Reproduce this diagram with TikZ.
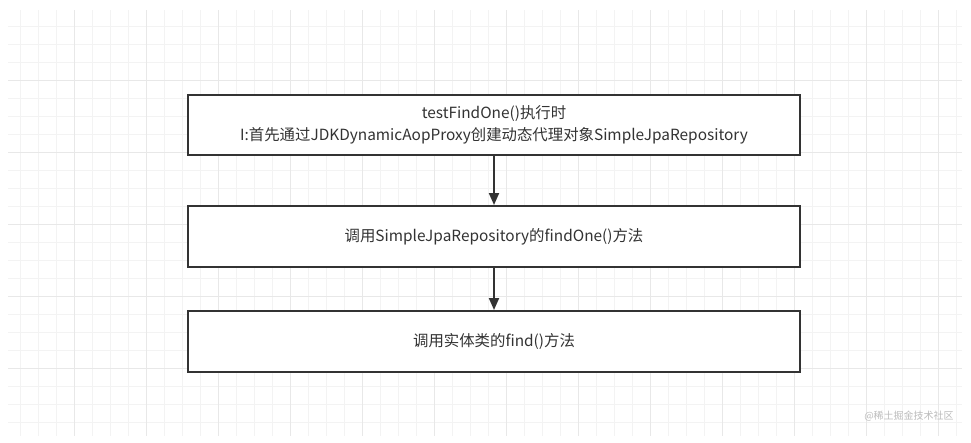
\documentclass[tikz,border=0pt]{standalone}
\usepackage{fontspec}
\setmainfont{Noto Sans CJK SC}
\usetikzlibrary{arrows.meta}
\definecolor{trait}{HTML}{333333}
\definecolor{grille}{HTML}{F3F3F3}
\definecolor{grilleforte}{HTML}{E8E8E8}
\definecolor{filigrane}{HTML}{BBBBBB}
\tikzset{
  etape/.style={draw=trait, line width=2pt, fill=white, minimum width=612pt,
    minimum height=60pt, inner sep=0pt, align=center, text=trait,
    font=\fontsize{15.4}{22}\selectfont},
  fleche/.style={draw=trait, line width=2pt, -{Triangle[length=12pt,width=10pt]}},
}
\begin{document}
\begin{tikzpicture}[x=1pt, y=-1pt]
	\useasboundingbox (0,0) rectangle (971,442);
	% Grille de fond
	\foreach \x in {20,38,...,962} \draw[grille, line width=1pt] (\x,10) -- (\x,436);
	\foreach \y in {26,44,...,436} \draw[grille, line width=1pt] (8,\y) -- (962,\y);
	\foreach \x in {74,146,...,962} \draw[grilleforte, line width=1pt] (\x,10) -- (\x,436);
	\foreach \y in {80,152,...,436} \draw[grilleforte, line width=1pt] (8,\y) -- (962,\y);

	% Les trois étapes
	\node[etape] (appel) at (494,125) {testFindOne()执行时\\I:首先通过JDKDynamicAopProxy创建动态代理对象SimpleJpaRepository};
	\node[etape, minimum height=61pt] (depot) at (494,236.5) {调用SimpleJpaRepository的findOne()方法};
	\node[etape, minimum height=61pt] (entite) at (494,341.5) {调用实体类的find()方法};

	% Flèches entre les étapes
	\draw[fleche] (appel) -- (depot);
	\draw[fleche] (depot) -- (entite);

	% Filigrane
	\node[text=filigrane, font=\fontsize{10}{12}\selectfont] (marque) at (909,416) {@稀土掘金技术社区};
\end{tikzpicture}
\end{document}
